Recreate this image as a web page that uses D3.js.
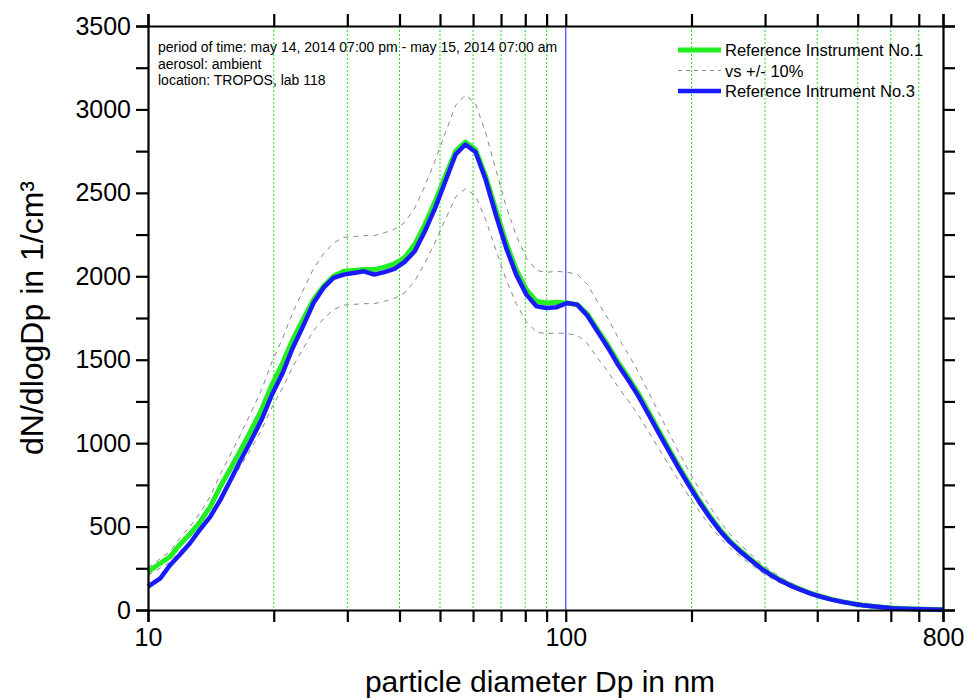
<!DOCTYPE html>
<html>
<head>
<meta charset="utf-8">
<script src="https://cdn.jsdelivr.net/npm/d3@7/dist/d3.min.js"></script>
<style>
html,body{margin:0;padding:0;background:#fff;}
svg{display:block;font-family:"Liberation Sans",Arial,sans-serif;}
</style>
</head>
<body>
<svg id="chart" width="967" height="700"></svg>
<script>
// ---- data ----
const diameters = [10,10.7,11.3,11.9,12.6,13.3,14.1,14.9,15.7,16.6,17.6,18.7,19.8,21,22.2,23.5,24.9,26.3,27.8,29.4,31.1,32.9,34.8,36.8,38.9,41.1,43.5,46,48.7,51.5,54.5,57.5,60.8,64.3,68,72,76.1,80.5,85.1,90,95.2,100.7,106.5,112.6,119.1,126,133,141,149,158,167,176.6,187,198,209,221,234,247,262,277,293,310,327,346,366,387,410,433,458,485,513,542,573,606,641,678,717,758,800];
const refNo1 = [230,280,320,390,455,525,620,740,840,950,1070,1200,1350,1480,1620,1740,1860,1940,2000,2030,2035,2040,2040,2055,2075,2110,2190,2310,2450,2600,2750,2805,2760,2600,2400,2200,2040,1920,1850,1840,1845,1840,1830,1775,1680,1590,1490,1395,1300,1185,1075,965,855,750,655,565,482,415,355,305,255,213,178,148,122,99,80,64,50,39,30,23,17,12,9,6,4,3,2];
const refNo3 = [140,190,270,330,400,480,560,660,770,890,1010,1140,1290,1420,1570,1700,1840,1930,1990,2010,2020,2030,2010,2025,2045,2085,2150,2270,2410,2570,2730,2790,2745,2580,2370,2170,2010,1890,1820,1810,1815,1840,1830,1765,1670,1575,1475,1380,1285,1170,1060,952,843,739,645,556,474,408,349,300,250,209,175,145,120,97,78,62,49,38,29,22,16,11,8,6,4,3,2];
const yTickValues = [0,500,1000,1500,2000,2500,3000,3500];
const xLabelValues = [10,100,800];
const xMinorValues = [20,30,40,50,60,70,80,90,200,300,400,500,600,700];
const annotation = ["period of time: may 14, 2014 07:00 pm - may 15, 2014 07:00 am","aerosol: ambient","location: TROPOS, lab 118"];
const legendItems = [
  {label:"Reference Instrument No.1", type:"green"},
  {label:"vs +/- 10%", type:"dash"},
  {label:"Reference Intrument No.3", type:"blue"}
];

// ---- layout ----
const L = 148, R = 943, T = 26, B = 610;
const GREEN = "#22ee22", BLUE = "#1a1aff", DASH = "#888";
const svg = d3.select("#chart");
const x = d3.scaleLog().domain([10,800]).range([L,R]);
const y = d3.scaleLinear().domain([0,3500]).range([B,T]);

// vertical grid lines
svg.append("g").selectAll("line").data(xMinorValues).join("line")
  .attr("x1",d=>x(d)).attr("x2",d=>x(d)).attr("y1",T).attr("y2",B)
  .attr("stroke","#22dd22").attr("stroke-width",1).attr("stroke-dasharray","2,2");
svg.append("line").attr("x1",x(100)).attr("x2",x(100)).attr("y1",T).attr("y2",B)
  .attr("stroke","#6666ff").attr("stroke-width",1.5);

// series
const pts = a => a.map((v,i)=>[diameters[i],v]);
const line = d3.line().x(d=>x(d[0])).y(d=>y(d[1]));
svg.append("path").datum(pts(refNo1)).attr("d",line).attr("fill","none")
  .attr("stroke",GREEN).attr("stroke-width",5).attr("stroke-linejoin","round");
svg.append("path").datum(pts(refNo1.map(v=>v*1.1))).attr("d",line).attr("fill","none")
  .attr("stroke",DASH).attr("stroke-width",1).attr("stroke-dasharray","5,5");
svg.append("path").datum(pts(refNo1.map(v=>v*0.9))).attr("d",line).attr("fill","none")
  .attr("stroke",DASH).attr("stroke-width",1).attr("stroke-dasharray","5,5");
svg.append("path").datum(pts(refNo3)).attr("d",line).attr("fill","none")
  .attr("stroke",BLUE).attr("stroke-width",4.5).attr("stroke-linejoin","round");

// axes
const tickLen = 12;
const yMinor = d3.range(0,3501,250);
const xAll = [10].concat(xMinorValues.slice(0,8),[100],xMinorValues.slice(8),[800]);
const fmt = d3.format("d");
const ax = [
  svg.append("g").attr("transform",`translate(${L},0)`).call(d3.axisLeft(y).tickValues(yMinor).tickSize(tickLen).tickFormat(d=>yTickValues.includes(d)?fmt(d):"")),
  svg.append("g").attr("transform",`translate(${R},0)`).call(d3.axisRight(y).tickValues(yMinor).tickSize(tickLen).tickFormat("")),
  svg.append("g").attr("transform",`translate(0,${B})`).call(d3.axisBottom(x).tickValues(xAll).tickSize(tickLen).tickFormat(d=>xLabelValues.includes(d)?fmt(d):"")),
  svg.append("g").attr("transform",`translate(0,${T})`).call(d3.axisTop(x).tickValues(xAll).tickSize(tickLen).tickFormat(""))
];
ax.forEach(g=>{
  g.select(".domain").attr("stroke","#000").attr("stroke-width",2.2);
  g.selectAll(".tick line").attr("stroke","#000").attr("stroke-width",2.2);
  g.selectAll(".tick text").attr("fill","#000").attr("font-size",25).attr("font-family","'Liberation Sans',Arial,sans-serif");
});
ax[0].selectAll(".tick text").attr("x",-tickLen-5);
ax[2].selectAll(".tick text").attr("y",tickLen+6);

// axis titles
svg.append("text").attr("x",540).attr("y",692).attr("text-anchor","middle")
  .attr("font-size",30).text("particle diameter Dp in nm");
svg.append("text").attr("transform",`translate(43,${(T+B)/2}) rotate(-90)`).attr("text-anchor","middle")
  .attr("font-size",32).text("dN/dlogDp in 1/cm³");

// annotation
svg.append("g").selectAll("text").data(annotation).join("text")
  .attr("x",158).attr("y",(d,i)=>52+i*16.5).attr("font-size",14).text(d=>d);

// legend
const lg = svg.append("g");
legendItems.forEach((it,i)=>{
  const cy = 50 + i*20.5;
  const ln = lg.append("line").attr("x1",678).attr("x2",721).attr("y1",cy).attr("y2",cy);
  if(it.type==="green") ln.attr("stroke",GREEN).attr("stroke-width",5);
  else if(it.type==="blue") ln.attr("stroke",BLUE).attr("stroke-width",4.5);
  else ln.attr("stroke",DASH).attr("stroke-width",1).attr("stroke-dasharray","4,4");
  lg.append("text").attr("x",725).attr("y",cy+6).attr("font-size",16.5).text(it.label);
});
</script>
</body>
</html>
